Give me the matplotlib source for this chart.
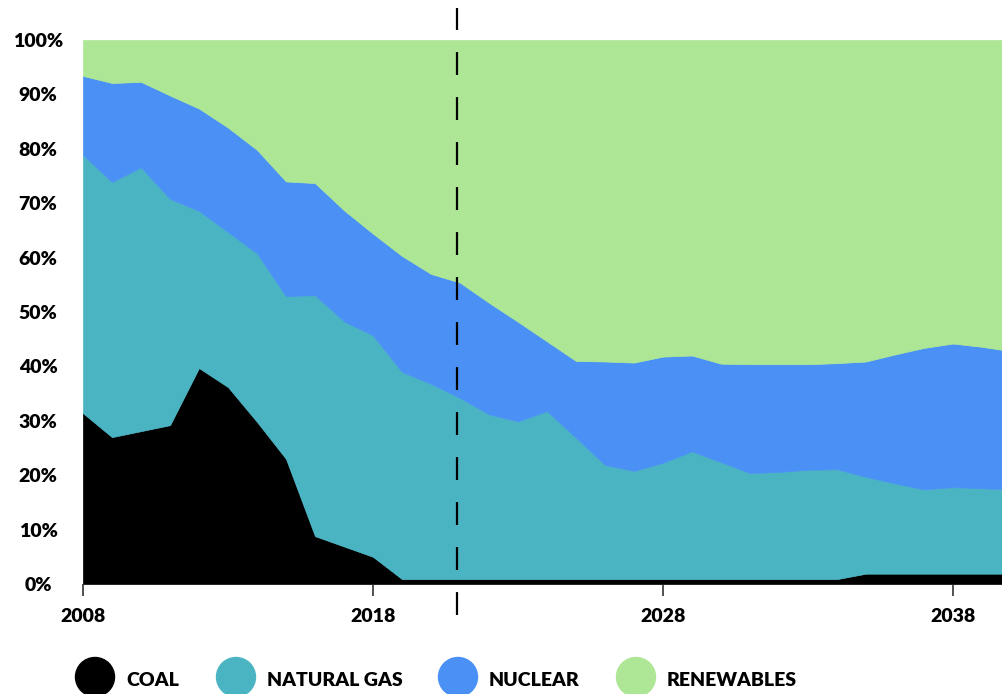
import matplotlib
matplotlib.use("Agg")
import matplotlib.pyplot as plt
from matplotlib.patches import Circle

# Electricity generation mix, share of total (%)
years = list(range(2008, 2041))
categories = ["COAL", "NATURAL GAS", "NUCLEAR", "RENEWABLES"]

coal = [31.4, 27.0, 28.1, 29.2, 39.7, 36.2, 29.8, 23.0, 8.8, 6.9, 5.0,
        0.9, 0.9, 0.9, 0.9, 0.9, 0.9, 0.9, 0.9, 0.9, 0.9, 0.9, 0.9, 0.9,
        0.9, 0.9, 0.9, 1.9, 1.9, 1.9, 1.9, 1.9, 1.9]
natural_gas = [47.5, 46.9, 48.5, 41.6, 28.9, 28.5, 31.0, 29.9, 44.3, 41.4, 40.7,
               38.1, 35.9, 33.3, 30.3, 29.0, 30.9, 26.0, 21.0, 19.9, 21.4, 23.5,
               21.5, 19.5, 19.7, 20.1, 20.2, 17.8, 16.6, 15.5, 15.9, 15.7, 15.5]
nuclear = [14.5, 18.2, 15.7, 19.0, 18.8, 19.2, 19.0, 21.1, 20.6, 20.4, 18.7,
           21.3, 20.2, 21.2, 20.5, 18.3, 12.8, 14.1, 19.0, 19.9, 19.5, 17.6,
           18.1, 20.0, 19.8, 19.4, 19.5, 21.2, 23.7, 26.0, 26.4, 26.0, 25.4]
renewables = [6.6, 7.9, 7.7, 10.2, 12.6, 16.1, 20.2, 26.0, 26.3, 31.3, 35.6,
              39.7, 43.0, 44.6, 48.3, 51.8, 55.4, 59.0, 59.1, 59.3, 58.2, 58.0,
              59.5, 59.6, 59.6, 59.6, 59.4, 59.1, 57.8, 56.6, 55.8, 56.4, 57.2]

tick_years = [2008, 2018, 2028, 2038]
y_ticks = [0, 10, 20, 30, 40, 50, 60, 70, 80, 90, 100]
y_tick_labels = [f"{v}%" for v in y_ticks]
today = 2020.9

colors = ["#000000", "#4bb4c3", "#4a90f5", "#ade694"]

plt.rcParams["font.family"] = ["Lato", "DejaVu Sans"]
plt.rcParams["lines.scale_dashes"] = False
FW = "heavy"
FS = 14

W, H = 1002, 694
fig = plt.figure(figsize=(W / 100, H / 100), dpi=100)
ax = fig.add_axes([83 / W, (H - 584) / H, (W - 83) / W, 544 / H])

ax.stackplot(years, coal, natural_gas, nuclear, renewables,
             colors=colors, edgecolor="face", linewidth=0.5)

ax.set_xlim(2008, 2008 + (W - 83) / 29)
ax.set_ylim(0, 100)

for s in ax.spines.values():
    s.set_visible(False)

ax.set_xticks(tick_years)
ax.set_xticklabels([str(y) for y in tick_years], fontsize=FS, fontweight=FW)
ax.tick_params(axis="x", length=8.6, width=1.1, color="#222222", pad=9)

ax.set_yticks(y_ticks)
ax.set_yticklabels(y_tick_labels, fontsize=FS, fontweight=FW, ha="center")
ax.tick_params(axis="y", length=0, pad=32.4)

# dashed marker for the current year, running past the plot area
ax.axvline(today, ymin=(584 - 615) / 544, ymax=(584 - 8) / 544,
           color="black", linewidth=1.6, dashes=(16.5, 15.9), clip_on=False)

# legend row along the bottom edge
circle_x = [95, 236, 458, 636]
for cx, col, name in zip(circle_x, colors, categories):
    fig.add_artist(Circle((cx / 100, 17 / 100), 19.5 / 100, color=col,
                          transform=fig.dpi_scale_trans))
    fig.text((cx + 31) / W, 14 / H, name, fontsize=FS, fontweight=FW,
             ha="left", va="center")

fig.savefig("out.png", dpi=100)
